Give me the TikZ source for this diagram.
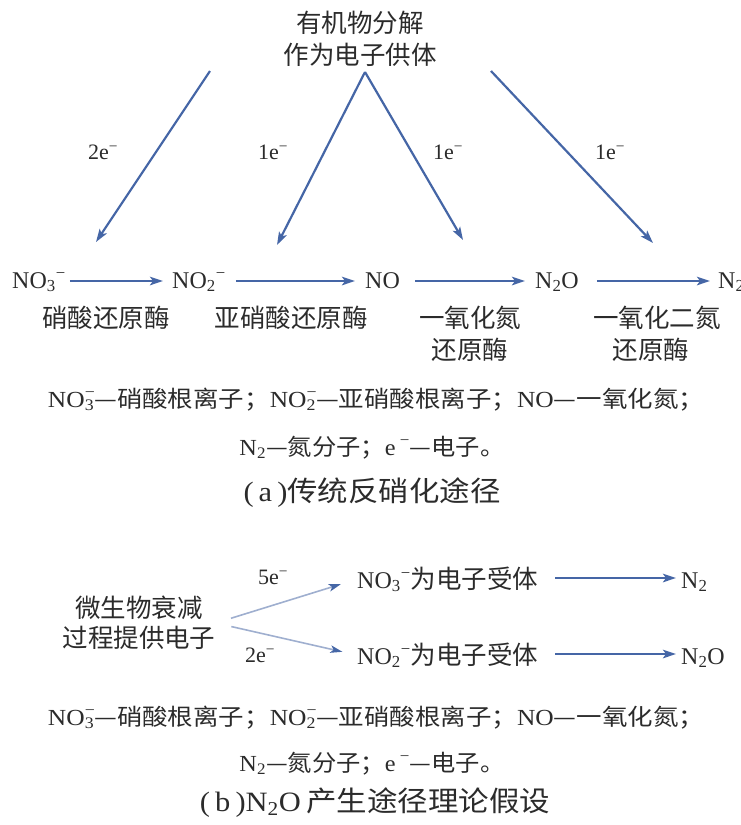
\documentclass[tikz,border=0pt]{standalone}
\usepackage{fontspec}
\usepackage{graphicx}
\setmainfont{Liberation Serif}
\newfontfamily\cn{Noto Sans CJK SC}
\usetikzlibrary{arrows.meta}
\definecolor{arrblue}{HTML}{4566A6}
\definecolor{arrlight}{HTML}{9FAFCF}
\definecolor{txt}{HTML}{2B2B2B}
\newcommand{\mneg}{\textsuperscript{−}}
\newcommand{\cnb}{\cn\fontsize{25.5}{30}\selectfont}
\newcommand{\stk}[1]{\rlap{\textsuperscript{−}}\textsubscript{#1}}
\begin{document}
\begin{tikzpicture}[x=1pt,y=-1pt,
  every node/.style={text=txt, inner sep=0pt},
  lat/.style={font=\fontsize{24}{28}\selectfont},
  cjk/.style={font=\cn\fontsize{25.5}{32}\selectfont},
  cjkb/.style={font=\cn\fontsize{25.5}{30}\selectfont},
  lbl/.style={font=\fontsize{22}{26}\selectfont},
  leg/.style={font=\fontsize{23}{28}\selectfont},
  capt/.style={font=\fontsize{28}{32}\selectfont},
  arr/.style={draw=arrblue, line width=2.2pt, -{Stealth[length=13pt,width=8.5pt,inset=3pt]}},
  arrl/.style={draw=arrlight, line width=1.6pt, -{Stealth[length=12pt,width=7.5pt,inset=3pt,color=arrblue]}}]
\useasboundingbox (0,0) rectangle (741,825);

% ---------- (a) ----------
\node[cjk, align=center] (top) at (360,39) {有机物分解\\作为电子供体};

\coordinate (s1) at (210,71);
\coordinate (apex) at (365,72);
\coordinate (s4) at (491,71);
\coordinate (e1) at (96,242);
\coordinate (e2) at (277,245);
\coordinate (e3) at (463,240);
\coordinate (e4) at (653,243);
\draw[arr] (s1) -- (e1);
\draw[arr] (apex) -- (e2);
\draw[arr] (apex) -- (e3);
\draw[arr] (s4) -- (e4);

\node[lbl] (l1) at (103,152) {2e\mneg};
\node[lbl] (l2) at (273,152) {1e\mneg};
\node[lbl] (l3) at (448,152) {1e\mneg};
\node[lbl] (l4) at (610,152) {1e\mneg};

\coordinate (rowy) at (0,281);
\node[lat, anchor=base west] (no3) at (12,288) {NO\textsubscript{3}\mneg};
\node[lat, anchor=base west] (no2) at (172,288) {NO\textsubscript{2}\mneg};
\node[lat, anchor=base west] (no) at (365,288) {NO};
\node[lat, anchor=base west] (n2o) at (535,288) {N\textsubscript{2}O};
\node[lat, anchor=base west] (n2) at (718,288) {N\textsubscript{2}};

\draw[arr, shorten <=4pt, shorten >=9pt] (no3.east |- rowy) -- (no2.west |- rowy);
\draw[arr, shorten <=10pt, shorten >=10pt] (no2.east |- rowy) -- (no.west |- rowy);
\draw[arr, shorten <=15pt, shorten >=10pt] (no.east |- rowy) -- (n2o.west |- rowy);
\draw[arr, shorten <=18pt, shorten >=8pt] (n2o.east |- rowy) -- (n2.west |- rowy);

\node[cjk, anchor=base] (nr) at (106,327) {硝酸还原酶};
\node[cjk, anchor=base] (nir) at (291,327) {亚硝酸还原酶};
\node[cjk, anchor=base] (nor1) at (470,327) {一氧化氮};
\node[cjk, anchor=base] (nor2) at (470,359) {还原酶};
\node[cjk, anchor=base] (nos1) at (657,327) {一氧化二氮};
\node[cjk, anchor=base] (nos2) at (651,359) {还原酶};

\node[leg, anchor=base] (lega1) at (376,407) {\resizebox{656pt}{\height}{NO\stk{3}{\cn —硝酸根离子；}NO\stk{2}{\cn —亚硝酸根离子；}NO{\cn —一氧化氮；}}};
\node[leg, anchor=base] (lega2) at (372,455) {\resizebox{265pt}{\height}{N\textsubscript{2}{\cn —氮分子；}e\,\textsuperscript{−}{\cn —电子。}}};
\node[capt, anchor=base] (capa) at (372,501) {\resizebox{257pt}{\height}{(\,a\,){\cn 传统反硝化途径}}};

% ---------- (b) ----------
\node[cjkb, align=center] (src) at (139,623) {微生物衰减\\过程提供电子};
\node[lat, anchor=base west] (no3b) at (357,588) {NO\textsubscript{3}\mneg{\cnb 为电子受体}};
\node[lat, anchor=base west] (no2b) at (357,664) {NO\textsubscript{2}\mneg{\cnb 为电子受体}};
\node[lat, anchor=base west] (n2b) at (681,588) {N\textsubscript{2}};
\node[lat, anchor=base west] (n2ob) at (681,664) {N\textsubscript{2}O};

\draw[arrl, shorten <=16pt, shorten >=17pt] (src.east) -- (no3b.west);
\draw[arrl, shorten <=16pt, shorten >=15pt] (src.east) -- (no2b.west);

\node[lbl] (l5) at (273,577) {5e\mneg};
\node[lbl] (l6) at (260,655) {2e\mneg};

\coordinate (rb1) at (0,578);
\coordinate (rb2) at (0,654);
\draw[arr, shorten <=17pt, shorten >=5pt] (no3b.east |- rb1) -- (n2b.west |- rb1);
\draw[arr, shorten <=17pt, shorten >=5pt] (no2b.east |- rb2) -- (n2ob.west |- rb2);

\node[leg, anchor=base] (legb1) at (376,725) {\resizebox{656pt}{\height}{NO\stk{3}{\cn —硝酸根离子；}NO\stk{2}{\cn —亚硝酸根离子；}NO{\cn —一氧化氮；}}};
\node[leg, anchor=base] (legb2) at (372,771) {\resizebox{265pt}{\height}{N\textsubscript{2}{\cn —氮分子；}e\,\textsuperscript{−}{\cn —电子。}}};
\node[capt, anchor=base] (capb) at (375,811) {\resizebox{350pt}{\height}{(\,b\,)N\textsubscript{2}O\,{\cn 产生途径理论假设}}};
\end{tikzpicture}
\end{document}
